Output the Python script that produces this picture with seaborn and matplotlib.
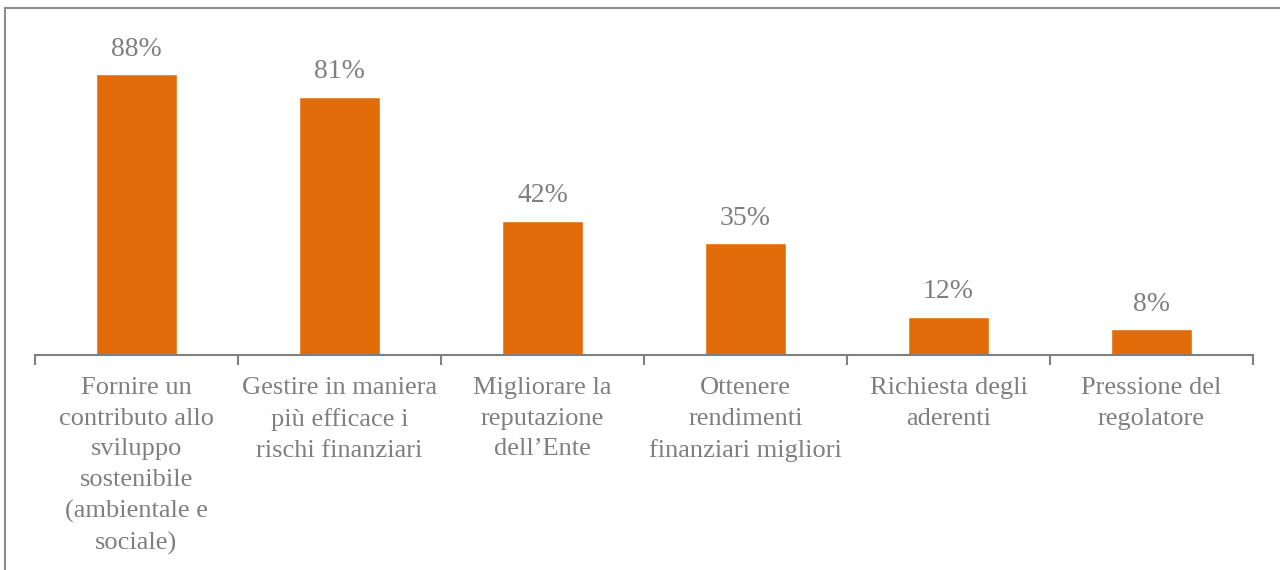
import matplotlib
matplotlib.use('Agg')
import matplotlib.pyplot as plt
import seaborn as sns
import pandas as pd
from matplotlib.lines import Line2D

categories = [
    'Fornire un\ncontributo allo\nsviluppo\nsostenibile\n(ambientale e\nsociale)',
    'Gestire in maniera\npiù efficace i\nrischi finanziari',
    'Migliorare la\nreputazione\ndell\u2019Ente',
    'Ottenere\nrendimenti\nfinanziari migliori',
    'Richiesta degli\naderenti',
    'Pressione del\nregolatore',
]
values = [88, 81, 42, 35, 12, 8]

bar_color = '#E36C0A'
grey = '#7F7F7F'

sns.set_style('white')
plt.rcParams['font.family'] = ['Liberation Serif', 'DejaVu Serif']

df = pd.DataFrame({'cat': categories, 'val': values})

fig = plt.figure(figsize=(12.8, 5.7), dpi=100)
ax = fig.add_axes([35 / 1280, 1 - 355 / 570, (1253 - 35) / 1280, (355 - 36) / 570])

sns.barplot(data=df, x='cat', y='val', color=bar_color, width=0.4,
            saturation=1, ax=ax)

for i, v in enumerate(values):
    ax.text(i, v + 4, f'{v}%', ha='center', va='bottom',
            fontsize=20, color=grey)

ax.set_ylim(0, 100)
ax.set_xlim(-0.5, len(categories) - 0.5)
ax.set_yticks([])
ax.set_xlabel('')
ax.set_ylabel('')
for s in ['top', 'right', 'left']:
    ax.spines[s].set_visible(False)
ax.spines['bottom'].set_color(grey)
ax.spines['bottom'].set_linewidth(1.5)

ax.set_xticks(range(len(categories)))
ax.set_xticklabels(categories, fontsize=19, color=grey, linespacing=1.5,
                   va='top')
ax.tick_params(axis='x', which='major', length=0, pad=16)
ax.set_xticks([i - 0.5 for i in range(len(categories) + 1)], minor=True)
ax.tick_params(axis='x', which='minor', bottom=True, length=7, width=1.5,
               color=grey, direction='out')

# outer frame (top and left edges)
fig.add_artist(Line2D([5 / 1280, 1], [1 - 8 / 570, 1 - 8 / 570],
                      transform=fig.transFigure, color='#8C8C8C', lw=1.5))
fig.add_artist(Line2D([5 / 1280, 5 / 1280], [0, 1 - 8 / 570],
                      transform=fig.transFigure, color='#8C8C8C', lw=1.5))

fig.savefig('out.png', dpi=100)
